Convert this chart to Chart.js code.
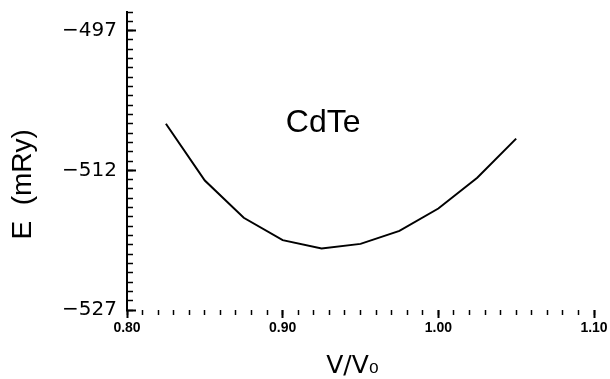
<!DOCTYPE html>
<html>
<head>
<meta charset="utf-8">
<script src="https://cdn.jsdelivr.net/npm/chart.js@4/dist/chart.umd.min.js"></script>
<style>
  html, body { margin: 0; padding: 0; background: #fff; }
  #wrap { width: 610px; height: 379px; position: relative; }
</style>
</head>
<body>
<div id="wrap"><canvas id="c" width="610" height="379"></canvas></div>
<script>
// ---- data ----
const volumeRatio = [0.825, 0.850, 0.875, 0.900, 0.925, 0.950, 0.975, 1.000, 1.025, 1.050];
const energyMRy   = [-507.0, -513.1, -517.1, -519.5, -520.4, -519.9, -518.5, -516.1, -512.8, -508.6];

const xTickValues = [0.80, 0.90, 1.00, 1.10];
const xTickLabels = ['0.80', '0.90', '1.00', '1.10'];
const yTickValues = [-527, -512, -497];
const yTickLabels = ['\u2212527', '\u2212512', '\u2212497'];

const compoundLabel = 'CdTe';
const compoundLabelAt = { x: 0.926, y: -507.9 };

const xRange = [0.80, 1.10];
const yRange = [-527, -495];

const annotationPlugin = {
  id: 'compoundText',
  afterDatasetsDraw(chart) {
    const ctx = chart.ctx;
    const xs = chart.scales.x, ys = chart.scales.y;
    ctx.save();
    ctx.font = '32px "Liberation Sans", Arial, sans-serif';
    ctx.fillStyle = '#000';
    ctx.textAlign = 'center';
    ctx.textBaseline = 'alphabetic';
    ctx.fillText(compoundLabel, xs.getPixelForValue(compoundLabelAt.x), ys.getPixelForValue(compoundLabelAt.y));
    ctx.restore();
  }
};

new Chart(document.getElementById('c'), {
  type: 'line',
  data: {
    labels: volumeRatio,
    datasets: [{
      data: volumeRatio.map((v, i) => ({ x: v, y: energyMRy[i] })),
      borderColor: '#000',
      borderWidth: 2,
      pointRadius: 0,
      tension: 0,
      fill: false
    }]
  },
  options: {
    responsive: false,
    animation: false,
    layout: { padding: { top: 12, right: 16, left: 0, bottom: 0 } },
    plugins: { legend: { display: false }, tooltip: { enabled: false } },
    scales: {
      x: {
        type: 'linear',
        position: 'bottom',
        min: xRange[0], max: xRange[1],
        afterBuildTicks: (s) => { s.ticks = xTickValues.map(v => ({ value: v })); },
        afterFit: (s) => { s.height = 69; s.paddingLeft = 0; s.paddingRight = 0; },
        border: { display: false },
        grid: { drawOnChartArea: false, drawTicks: true, tickLength: 8, tickWidth: 2, tickColor: '#000' },
        ticks: {
          autoSkip: false, maxRotation: 0, padding: 2,
          color: '#000',
          font: { family: '"Liberation Sans", Arial, sans-serif', size: 14, weight: 'bold' },
          callback: (v, i) => xTickLabels[i]
        },
        title: {
          display: true,
          text: 'V/V\u2080\u00a0\u00a0',
          color: '#000',
          font: { family: '"DejaVu Sans", sans-serif', size: 25, lineHeight: 1.2 },
          padding: { top: 0, bottom: -2 }
        }
      },
      xMinor: {
        type: 'linear',
        axis: 'x',
        position: { y: yRange[0] },
        min: xRange[0], max: xRange[1],
        border: { display: false },
        grid: { drawOnChartArea: false, drawTicks: true, tickLength: 5, tickWidth: 1.5, tickColor: '#000' },
        ticks: { display: false, stepSize: 0.01 }
      },
      y: {
        type: 'linear',
        position: 'left',
        min: yRange[0], max: yRange[1],
        afterBuildTicks: (s) => { s.ticks = yTickValues.map(v => ({ value: v })); },
        afterFit: (s) => { s.width = 127; s.paddingTop = 0; s.paddingBottom = 0; },
        border: { display: true, color: '#000', width: 2 },
        grid: { drawOnChartArea: false, drawTicks: true, tickLength: -9, tickWidth: 2, tickColor: '#000' },
        ticks: {
          autoSkip: false, padding: 19,
          color: '#000',
          font: { family: '"DejaVu Sans", sans-serif', size: 20 },
          callback: (v, i) => yTickLabels[i]
        },
        title: {
          display: true,
          text: 'E  (mRy)\u00a0\u00a0\u00a0\u00a0\u00a0\u00a0',
          color: '#000',
          font: { family: '"Liberation Sans", Arial, sans-serif', size: 28, lineHeight: 1.2 },
          padding: { top: 6, bottom: 0 }
        }
      },
      yMinor: {
        type: 'linear',
        axis: 'y',
        position: { x: xRange[0] },
        min: yRange[0], max: yRange[1],
        border: { display: false },
        grid: { drawOnChartArea: false, drawTicks: true, tickLength: -6, tickWidth: 1.5, tickColor: '#000' },
        ticks: { display: false, stepSize: 1 }
      }
    }
  },
  plugins: [annotationPlugin]
});
</script>
</body>
</html>
